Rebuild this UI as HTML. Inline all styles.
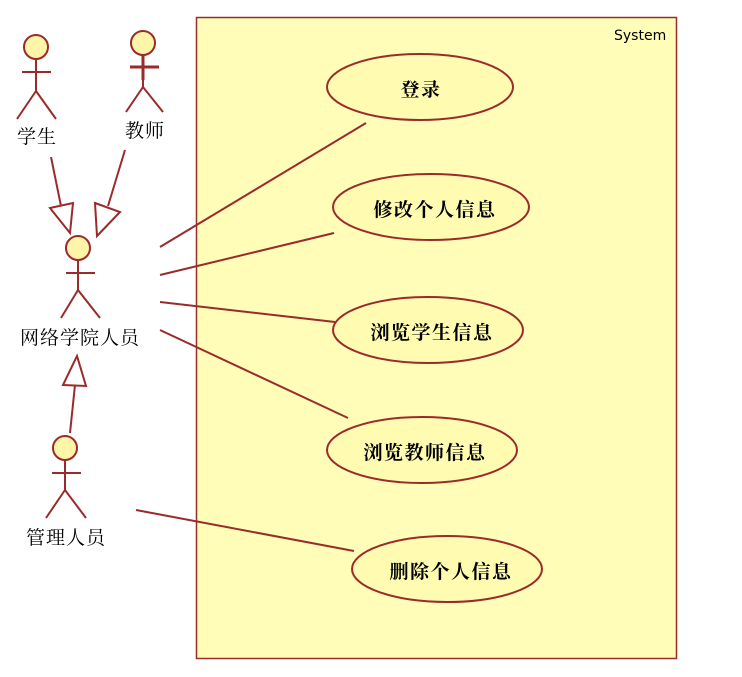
<!DOCTYPE html>
<html><head><meta charset="utf-8"><style>html,body{margin:0;padding:0;background:#fff}svg{display:block}</style></head><body>
<svg width="742" height="677" xmlns="http://www.w3.org/2000/svg">
<rect x="196.5" y="17.5" width="480" height="641" fill="#fffdb8" stroke="#9a2b2b" stroke-width="1.5"/>
<text x="614" y="40" font-family="DejaVu Sans, sans-serif" font-size="14" fill="#000">System</text>
<g fill="#fffbb0" stroke="#9a2b2b" stroke-width="2">
<ellipse cx="420" cy="87" rx="93" ry="33"/>
<ellipse cx="431" cy="207" rx="98" ry="33"/>
<ellipse cx="428" cy="330" rx="95" ry="33"/>
<ellipse cx="422" cy="450" rx="95" ry="33"/>
<ellipse cx="447" cy="569" rx="95" ry="33"/>
</g>
<g font-family="Liberation Serif, Noto Serif CJK SC, serif" font-size="19" font-weight="bold" text-anchor="middle" fill="#000" letter-spacing="1.5">
<text x="421" y="96">登录</text>
<text x="435" y="216">修改个人信息</text>
<text x="432" y="339">浏览学生信息</text>
<text x="425" y="459">浏览教师信息</text>
<text x="451" y="578">删除个人信息</text>
</g>
<g stroke="#9a2b2b" stroke-width="2" fill="none">
<line x1="160" y1="247" x2="366" y2="123"/>
<line x1="160" y1="275" x2="334" y2="233"/>
<line x1="160" y1="302" x2="335" y2="322"/>
<line x1="160" y1="330" x2="348" y2="418"/>
<line x1="136" y1="510" x2="354" y2="551"/>
<line x1="51" y1="157" x2="61" y2="206"/>
<line x1="125" y1="150" x2="108" y2="206"/>
<line x1="70" y1="433" x2="75" y2="385"/>
<polygon points="50,208 73,203 70,233" fill="#fff"/>
<polygon points="95,203 120,212 97,236" fill="#fff"/>
<polygon points="63,385 86,386 77,356" fill="#fff"/>
<circle cx="36" cy="47" r="12" fill="#fff5a8"/>
<path d="M36 59V91M22 72H51M36 91L17 119M36 91L56 119"/>
<circle cx="143" cy="43" r="12" fill="#fff5a8"/>
<path d="M143 55V87M126 112L143 87L163 112"/>
<path d="M130 67H159M143 55V80" stroke-width="3"/>
<circle cx="78" cy="248" r="12" fill="#fff5a8"/>
<path d="M78 260V290M66 273H95M78 290L61 318M78 290L100 318"/>
<circle cx="65" cy="448" r="12" fill="#fff5a8"/>
<path d="M65 460V490M52 473H81M65 490L46 518M65 490L86 518"/>
</g>
<g font-family="Liberation Serif, Noto Serif CJK SC, serif" font-size="19" text-anchor="middle" fill="#000" letter-spacing="1">
<text x="37" y="143">学生</text>
<text x="145" y="137">教师</text>
<text x="80" y="344">网络学院人员</text>
<text x="66" y="544">管理人员</text>
</g>
</svg>
</body></html>
